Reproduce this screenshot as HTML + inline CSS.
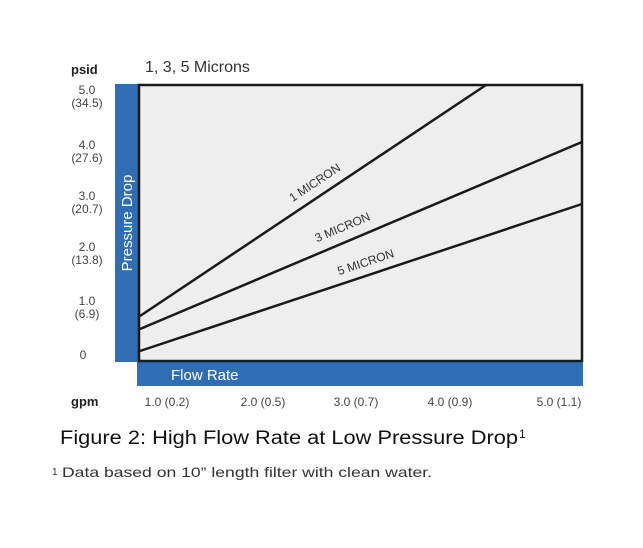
<!DOCTYPE html>
<html><head><style>
body{margin:0;background:#fff;}
svg text{font-family:"Liberation Sans",sans-serif;}
</style></head><body>
<svg width="643" height="543" xmlns="http://www.w3.org/2000/svg">
<rect width="643" height="543" fill="#fff"/>
<rect x="115" y="84" width="24" height="278" fill="#2f6db5"/>
<rect x="137" y="362" width="446" height="24" fill="#2f6db5"/>
<rect x="139" y="85" width="443" height="276" fill="#eeeeee" stroke="#1a1a1a" stroke-width="2.5"/>
<g stroke="#1a1a1a" stroke-width="2.5">
<line x1="140" y1="316" x2="486" y2="85"/>
<line x1="140" y1="329" x2="582" y2="142"/>
<line x1="140" y1="351" x2="582" y2="204"/>
</g>
<g fill="#333" font-size="12">
<text transform="translate(317,186) rotate(-33.7)" text-anchor="middle">1 MICRON</text>
<text transform="translate(344,231) rotate(-22.9)" text-anchor="middle">3 MICRON</text>
<text transform="translate(367,266) rotate(-18.4)" text-anchor="middle">5 MICRON</text>
</g>
<text transform="translate(132,223) rotate(-90)" text-anchor="middle" fill="#fff" font-size="15">Pressure Drop</text>
<text x="171" y="380" fill="#fff" font-size="15">Flow Rate</text>
<text x="71" y="74" font-size="13" font-weight="bold" fill="#222">psid</text>
<text x="145" y="72" font-size="16" fill="#333">1, 3, 5 Microns</text>
<g font-size="12" fill="#444" text-anchor="middle">
<text x="87" y="94">5.0</text><text x="87" y="107">(34.5)</text>
<text x="87" y="149">4.0</text><text x="87" y="162">(27.6)</text>
<text x="87" y="200">3.0</text><text x="87" y="213">(20.7)</text>
<text x="87" y="251">2.0</text><text x="87" y="264">(13.8)</text>
<text x="87" y="305">1.0</text><text x="87" y="318">(6.9)</text>
<text x="83" y="359">0</text>
<text x="167" y="406">1.0 (0.2)</text>
<text x="263" y="406">2.0 (0.5)</text>
<text x="356" y="406">3.0 (0.7)</text>
<text x="450" y="406">4.0 (0.9)</text>
<text x="559" y="406">5.0 (1.1)</text>
</g>
<text x="71" y="406" font-size="13" font-weight="bold" fill="#222">gpm</text>
<text x="60" y="444" font-size="19" fill="#111" textLength="458" lengthAdjust="spacingAndGlyphs">Figure 2: High Flow Rate at Low Pressure Drop</text>
<text x="519" y="438" font-size="12" fill="#111">1</text>
<text x="52" y="475" font-size="10" fill="#333">1</text>
<text x="62" y="477" font-size="14" fill="#333" textLength="370" lengthAdjust="spacingAndGlyphs">Data based on 10” length filter with clean water.</text>
</svg>
</body></html>
